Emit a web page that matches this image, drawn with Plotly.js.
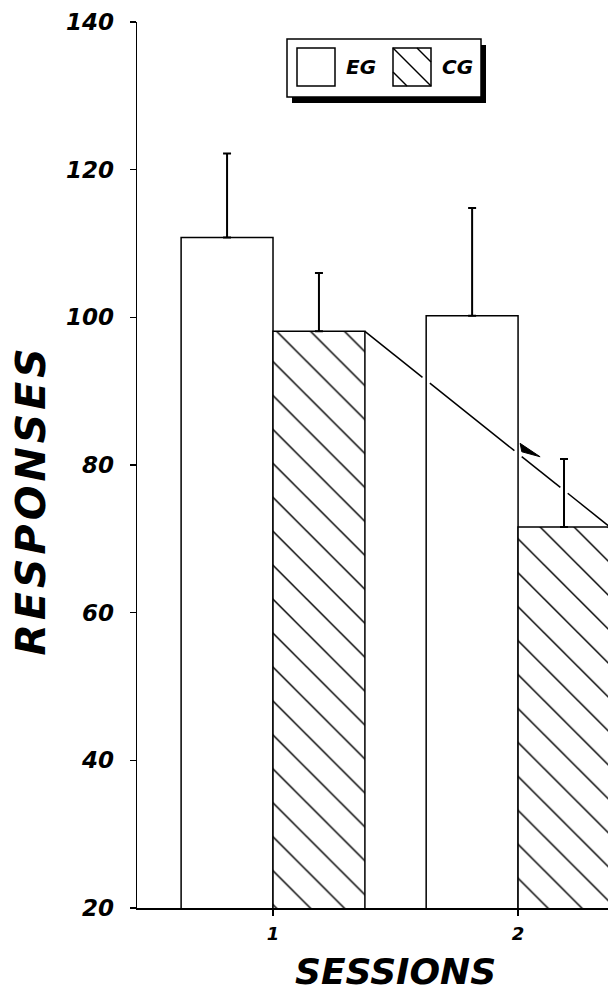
<!DOCTYPE html>
<html><head><meta charset="utf-8">
<script src="https://cdn.plot.ly/plotly-3.0.1.min.js"></script>
<style>
html,body{margin:0;padding:0;background:#fff;}
#chart{width:608px;height:991px;}
g.annotation[data-index="0"] text{letter-spacing:4px;}
</style></head><body><div id="chart"></div>
<script>
// ---- data ----
const sessions = [1, 2];
const sessionLabels = ['1', '2'];
const egMeans = [110.8, 100.2];
const egErr = [11.4, 14.6];
const cgMeans = [98.1, 71.6];
const cgErr = [7.9, 9.2];
const yTicks = [20, 40, 60, 80, 100, 120, 140];
const groupNames = ['EG', 'CG'];

// ---- layout geometry ----
const W = 608, H = 991;
const M = {l: 137, r: 0, t: 22, b: 83};
const plotW = W - M.l - M.r, plotH = H - M.t - M.b;
const xRange = [0.445, 2.367], yRange = [20, 140];
const bargap = 0.25;
const bw = (1 - bargap) / 2;
const FONT = 'DejaVu Sans';

const pxX = px => xRange[0] + (px - M.l) / plotW * (xRange[1] - xRange[0]);
const pxY = py => yRange[0] + (M.t + plotH - py) / plotH * (yRange[1] - yRange[0]);
const toPxX = x => M.l + (x - xRange[0]) / (xRange[1] - xRange[0]) * plotW;
const toPxY = y => M.t + plotH - (y - yRange[0]) / (yRange[1] - yRange[0]) * plotH;
const paperX = px => (px - M.l) / plotW;
const paperY = py => (M.t + plotH - py) / plotH;

const traces = [
  {
    type: 'bar', name: groupNames[0], x: sessions, y: egMeans,
    marker: {color: 'white', line: {color: 'black', width: 1.5}},
    error_y: {type: 'data', symmetric: false, array: egErr, arrayminus: egErr.map(() => 0),
              color: 'black', thickness: 2, width: 4},
    showlegend: false, hoverinfo: 'skip'
  },
  {
    type: 'bar', name: groupNames[1], x: sessions, y: cgMeans,
    marker: {color: 'white', line: {color: 'black', width: 1.5},
             pattern: {shape: '\\', fgcolor: 'black', bgcolor: 'white', size: 24, solidity: 0.06}},
    error_y: {type: 'data', symmetric: false, array: cgErr, arrayminus: cgErr.map(() => 0),
              color: 'black', thickness: 2, width: 4},
    showlegend: false, hoverinfo: 'skip'
  }
];

const shapes = [];
// connecting line between CG bar tops (right edges), with small breaks at crossings
const x0 = sessions[0] + bw, y0 = cgMeans[0];
const x1 = sessions[1] + bw, y1 = cgMeans[1];
const yAt = x => y0 + (y1 - y0) * (x - x0) / (x1 - x0);
const crossings = [sessions[1] - bw, sessions[1], sessions[1] + bw / 2];
const g = 0.015;
let cur = x0;
crossings.forEach(c => {
  shapes.push({type: 'line', xref: 'x', yref: 'y', x0: cur, y0: yAt(cur), x1: c - g, y1: yAt(c - g),
               line: {color: 'black', width: 1.5}});
  cur = c + g;
});
shapes.push({type: 'line', xref: 'x', yref: 'y', x0: cur, y0: yAt(cur), x1: x1, y1: y1,
             line: {color: 'black', width: 1.5}});

// arrowhead above the line
const tArrow = 0.715;
const tipPx = [toPxX(x0 + (x1 - x0) * tArrow), toPxY(yAt(x0 + (x1 - x0) * tArrow)) - 14.5];
const headPts = [[0, 0], [-20, -13.4], [-18.3, -5]].map(([dx, dy]) => [pxX(tipPx[0] + dx), pxY(tipPx[1] + dy)]);
shapes.push({type: 'path', xref: 'x', yref: 'y',
  path: 'M' + headPts.map(p => p[0] + ',' + p[1]).join(' L') + ' Z',
  fillcolor: 'black', line: {color: 'black', width: 1}});

// ---- legend (drawn manually) ----
const box = {x0: 287, x1: 481, y0: 39, y1: 97};
const rectPx = (a, b, c, d, extra) => Object.assign({type: 'rect', xref: 'paper', yref: 'paper',
  x0: paperX(a), x1: paperX(b), y0: paperY(d), y1: paperY(c)}, extra);
shapes.push(rectPx(box.x0 + 5, box.x1 + 5, box.y0 + 6, box.y1 + 6, {fillcolor: 'black', line: {width: 0}}));
shapes.push(rectPx(box.x0, box.x1, box.y0, box.y1, {fillcolor: 'white', line: {color: 'black', width: 1.5}}));
const sq1 = {x0: 297, x1: 335, y0: 48, y1: 86};
const sq2 = {x0: 393, x1: 431, y0: 48, y1: 86};
shapes.push(rectPx(sq1.x0, sq1.x1, sq1.y0, sq1.y1, {fillcolor: 'white', line: {color: 'black', width: 1.5}}));
shapes.push(rectPx(sq2.x0, sq2.x1, sq2.y0, sq2.y1, {fillcolor: 'white', line: {color: 'black', width: 1.5}}));
const c0 = sq2.x0 - sq2.y0;
[-24, 0, 24].forEach(off => {
  const c = c0 + off;
  const ya = Math.max(sq2.y0, sq2.x0 - c), yb = Math.min(sq2.y1, sq2.x1 - c);
  if (yb > ya) shapes.push({type: 'line', xref: 'paper', yref: 'paper',
    x0: paperX(ya + c), y0: paperY(ya), x1: paperX(yb + c), y1: paperY(yb),
    line: {color: 'black', width: 1.4}});
});

const bi = size => ({family: FONT, size: size, color: 'black', weight: 'bold', style: 'italic'});
const annotations = [
  {text: 'RESPONSES', xref: 'paper', yref: 'paper', x: paperX(30), y: paperY(500.5), textangle: -90,
   xanchor: 'center', yanchor: 'middle', showarrow: false, font: bi(41)},
  {text: 'SESSIONS', xref: 'paper', yref: 'paper', x: paperX(395), y: paperY(971),
   xanchor: 'center', yanchor: 'middle', showarrow: false, font: bi(36)},
  {text: groupNames[0], xref: 'paper', yref: 'paper', x: paperX(344), y: paperY(67),
   xanchor: 'left', yanchor: 'middle', showarrow: false, font: bi(20)},
  {text: groupNames[1], xref: 'paper', yref: 'paper', x: paperX(440), y: paperY(67),
   xanchor: 'left', yanchor: 'middle', showarrow: false, font: bi(20)}
];

const layout = {
  width: W, height: H, margin: M,
  paper_bgcolor: 'white', plot_bgcolor: 'white',
  barmode: 'group', bargap: bargap, bargroupgap: 0,
  showlegend: false,
  xaxis: {range: xRange, tickmode: 'array', tickvals: sessions, ticktext: sessionLabels,
    ticks: 'outside', ticklen: 6, tickwidth: 1.5, tickcolor: 'black',
    showline: true, linewidth: 1.5, linecolor: 'black', showgrid: false, zeroline: false,
    tickfont: bi(18), ticklabelstandoff: 3, fixedrange: true},
  yaxis: {range: yRange, tickmode: 'array', tickvals: yTicks, ticktext: yTicks.map(String),
    ticks: 'outside', ticklen: 6, tickwidth: 1.5, tickcolor: 'black',
    showline: true, linewidth: 1.5, linecolor: 'black', showgrid: false, zeroline: false,
    tickfont: bi(23), ticklabelstandoff: 11, fixedrange: true},
  yaxis2: {range: yRange, tickmode: 'array', tickvals: yTicks, overlaying: 'y', anchor: 'x', side: 'left',
    ticks: 'inside', ticklen: 6, tickwidth: 1.5, tickcolor: 'black', showticklabels: false,
    showline: false, showgrid: false, zeroline: false, fixedrange: true},
  shapes: shapes,
  annotations: annotations
};

Plotly.newPlot('chart', traces, layout, {displayModeBar: false, staticPlot: true});
</script></body></html>
